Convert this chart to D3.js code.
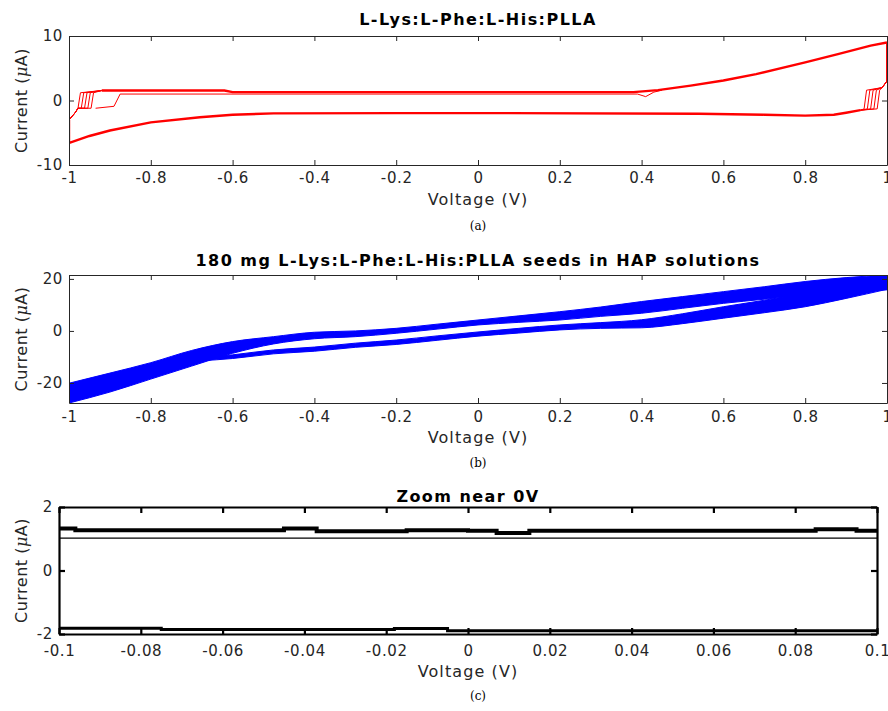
<!DOCTYPE html>
<html lang="en">
<head>
<meta charset="UTF-8">
<title>Cyclic voltammetry</title>
<script src="https://d3js.org/d3.v7.min.js"></script>
<style>
    body { margin: 0; background: #fff; font-family: "DejaVu Sans", sans-serif; }
    .tick text { font-size: 15px; fill: #262626; letter-spacing: 0.6px; font-family: "DejaVu Sans", sans-serif; }
    .title { font-size: 16px; font-weight: bold; fill: #000; text-anchor: middle; letter-spacing: 1.45px; }
    .axlabel { font-size: 16px; fill: #262626; text-anchor: middle; letter-spacing: 1.1px; }
    .ylabel { font-size: 16px; fill: #262626; text-anchor: middle; letter-spacing: 0.5px; }
    .caption { font-size: 12px; font-family: "DejaVu Serif", serif; text-anchor: middle; }
</style>
</head>
<body>
<svg width="888" height="711"></svg>
<script>
// ---- tick values
const voltTicks = [-1, -0.8, -0.6, -0.4, -0.2, 0, 0.2, 0.4, 0.6, 0.8, 1];
const zoomTicks = [-0.1, -0.08, -0.06, -0.04, -0.02, 0, 0.02, 0.04, 0.06, 0.08, 0.1];
const aCurTicks = [-10, 0, 10];
const bCurTicks = [-20, 0, 20];
const cCurTicks = [-2, 0, 2];

// ---- (a) L-Lys:L-Phe:L-His:PLLA, red loops (V, uA)
const aForwardV = [-0.92, -0.62, -0.6, 0.38, 0.44, 0.52, 0.6, 0.68, 0.8, 0.88, 0.96, 1.0];
const aForwardI = [1.55, 1.55, 1.3, 1.3, 1.6, 2.3, 3.1, 4.1, 5.9, 7.2, 8.5, 9.0];
const aReverseV = [0.935, 0.9, 0.87, 0.8, 0.7, 0.54, 0.05, -0.2, -0.5, -0.6, -0.68, -0.8, -0.9, -0.95, -1.0, -1.0];
const aReverseI = [-1.5, -1.9, -2.2, -2.35, -2.2, -2.05, -1.95, -1.95, -2.0, -2.2, -2.6, -3.4, -4.65, -5.5, -6.6, -3.0];
const aLeftSteps = [-0.978, -0.97, -0.962, -0.954, -0.946];
const aRightSteps = [0.982, 0.974, 0.966, 0.958, 0.95];
const aFirstV = [-0.935, -0.89, -0.875, 0.39, 0.41, 0.43, 0.45];
const aFirstI = [-1.2, -0.9, 1.0, 1.0, 0.6, 1.3, 1.6];

// ---- (b) 180 mg seeds in HAP, blue bands (V, uA)
const bUpperV  = [-1, -0.9, -0.8, -0.7, -0.6, -0.5, -0.4, -0.3, -0.2, -0.1, 0, 0.1, 0.2, 0.3, 0.4, 0.5, 0.6, 0.7, 0.8, 0.9, 1];
const bUpperHi = [-20.1, -16.2, -12.2, -7.5, -4.1, -2.2, -0.5, 0.0, 1.0, 2.6, 4.2, 5.8, 7.4, 9.2, 11.3, 13.2, 15.1, 17.0, 19.0, 20.5, 21.5];
const bUpperLo = [-27.7, -23.5, -18.5, -13.5, -8.6, -5.0, -3.0, -2.2, -0.9, 0.7, 2.3, 3.3, 4.2, 5.6, 6.8, 8.7, 10.6, 12.2, 13.8, 15.0, 15.8];
const bLowerV  = [-0.68, -0.6, -0.5, -0.4, -0.3, -0.2, -0.1, 0, 0.1, 0.2, 0.3, 0.4, 0.5, 0.6, 0.7, 0.8, 0.9, 1];
const bLowerHi = [-10.5, -9.2, -7.3, -6.2, -4.7, -3.5, -1.9, -0.4, 1.0, 2.3, 3.2, 4.3, 6.6, 9.3, 11.8, 14.5, 17.5, 20.5];
const bLowerLo = [-11.5, -10.6, -8.8, -7.8, -6.3, -5.2, -3.6, -2.0, -0.8, 0.4, 1.0, 1.2, 2.8, 4.9, 7.0, 9.3, 12.5, 16.0];

// ---- (c) zoom near 0 V, black traces (V, uA)
const cUpperV = [-0.1, -0.096, -0.045, -0.037, -0.015, 0.0, 0.007, 0.015, 0.085, 0.095, 0.1];
const cUpperI = [1.32, 1.27, 1.32, 1.24, 1.27, 1.25, 1.18, 1.25, 1.30, 1.25, 1.25];
const cRefV = [-0.1, 0.1];
const cRefI = [1.02, 1.02];
const cLowerV = [-0.1, -0.075, -0.018, -0.005, 0.1];
const cLowerI = [-1.82, -1.86, -1.83, -1.9, -1.92];

const svg = d3.select("svg");
const fmt = d => String(+d.toFixed(2));
const pts = (vs, is) => vs.map((v, k) => [v, is[k]]);

function panel(o) {
    const x = d3.scaleLinear().domain(o.xDomain).range([o.left, o.right]);
    const y = d3.scaleLinear().domain(o.yDomain).range([o.bottom, o.top]);
    const g = svg.append("g");
    const clipId = "clip" + o.id;
    g.append("clipPath").attr("id", clipId).append("rect")
        .attr("x", o.left).attr("y", o.top)
        .attr("width", o.right - o.left).attr("height", o.bottom - o.top);
    const data = g.append("g").attr("clip-path", `url(#${clipId})`);

    const tk = o.tick;
    const axes = [
        [d3.axisBottom(x).tickValues(o.xTicks).tickFormat(fmt), `translate(0,${o.bottom})`, o.xPad],
        [d3.axisTop(x).tickValues(o.xTicks).tickFormat(""), `translate(0,${o.top})`, 3],
        [d3.axisLeft(y).tickValues(o.yTicks).tickFormat(fmt), `translate(${o.left},0)`, o.yPad],
        [d3.axisRight(y).tickValues(o.yTicks).tickFormat(""), `translate(${o.right},0)`, 3]
    ];
    axes.forEach(([ax, tr, pad]) => {
        const a = g.append("g").attr("transform", tr)
            .call(ax.tickSizeInner(-tk).tickSizeOuter(0).tickPadding(pad));
        a.select(".domain").attr("stroke", o.frame).attr("stroke-width", o.frameW);
        a.selectAll(".tick line").attr("stroke", o.frame).attr("stroke-width", o.frameW);
    });
    g.selectAll(".tick text").attr("fill", "#262626");

    g.append("text").attr("class", "title")
        .attr("x", (o.left + o.right) / 2).attr("y", o.top + o.titleDy).text(o.title);
    g.append("text").attr("class", "axlabel")
        .attr("x", (o.left + o.right) / 2).attr("y", o.bottom + o.labelDy).text("Voltage (V)");
    const yl = g.append("text").attr("class", "ylabel")
        .attr("transform", `translate(27,${(o.top + o.bottom) / 2}) rotate(-90)`);
    yl.append("tspan").text("Current (");
    yl.append("tspan").attr("font-style", "italic").attr("font-family", "DejaVu Serif, serif").text("\u03bc");
    yl.append("tspan").text("A)");
    g.append("text").attr("class", "caption")
        .attr("x", 478).attr("y", o.bottom + o.capDy).text(o.caption);
    return { x, y, data };
}

// ---------- (a)
{
    const p = panel({ id: "a", left: 69, right: 887, top: 36, bottom: 165,
        xDomain: [-1, 1], yDomain: [-10, 10], xTicks: voltTicks, yTicks: aCurTicks,
        tick: 5, frame: "#262626", frameW: 1, xPad: 7, yPad: 6,
        titleDy: -11, labelDy: 40, capDy: 65,
        title: "L-Lys:L-Phe:L-His:PLLA", caption: "(a)" });
    const line = d3.line().x(d => p.x(d[0])).y(d => p.y(d[1]));
    const red = "#ff0000";
    p.data.append("path").attr("d", line(pts(aForwardV, aForwardI)))
        .attr("fill", "none").attr("stroke", red).attr("stroke-width", 2.4);
    p.data.append("path").attr("d", line(pts(aReverseV, aReverseI)))
        .attr("fill", "none").attr("stroke", red).attr("stroke-width", 2.4);
    p.data.append("path").attr("d", line(pts(aFirstV, aFirstI)))
        .attr("fill", "none").attr("stroke", red).attr("stroke-width", 1);
    aLeftSteps.forEach(s => {
        const c = [[-1, -3.0], [-0.985, -1.9], [-0.978, -1.2], [s, -1.2], [s + 0.006, 1.2], [-0.92, 1.55]];
        p.data.append("path").attr("d", line(c))
            .attr("fill", "none").attr("stroke", red).attr("stroke-width", 1);
    });
    aRightSteps.forEach(s => {
        const c = [[1.0, 9.0], [1.0, 3.0], [0.988, 2.0], [s, 1.6], [s - 0.006, -1.3], [0.935, -1.5]];
        p.data.append("path").attr("d", line(c))
            .attr("fill", "none").attr("stroke", red).attr("stroke-width", 1);
    });
}

// ---------- (b)
{
    const p = panel({ id: "b", left: 69, right: 887, top: 275, bottom: 403,
        xDomain: [-1, 1], yDomain: [-27.7, 21.5], xTicks: voltTicks, yTicks: bCurTicks,
        tick: 5, frame: "#262626", frameW: 1, xPad: 8, yPad: 6,
        titleDy: -9, labelDy: 40, capDy: 64,
        title: "180 mg L-Lys:L-Phe:L-His:PLLA seeds in HAP solutions", caption: "(b)" });
    const area = d3.area().curve(d3.curveMonotoneX)
        .x(d => p.x(d.v)).y0(d => p.y(d.lo)).y1(d => p.y(d.hi));
    const blue = "#0000ff";
    const upper = bUpperV.map((v, k) => ({ v, hi: bUpperHi[k], lo: bUpperLo[k] }));
    const lower = bLowerV.map((v, k) => ({ v, hi: bLowerHi[k], lo: bLowerLo[k] }));
    [upper, lower].forEach(band => {
        p.data.append("path").attr("d", area(band))
            .attr("fill", blue).attr("stroke", blue).attr("stroke-width", 1);
    });
}

// ---------- (c)
{
    const p = panel({ id: "c", left: 59, right: 877, top: 507, bottom: 634,
        xDomain: [-0.1, 0.1], yDomain: [-2, 2], xTicks: zoomTicks, yTicks: cCurTicks,
        tick: 6, frame: "#000", frameW: 2.2, xPad: 11, yPad: 6,
        titleDy: -5, labelDy: 43, capDy: 66,
        title: "Zoom near 0V", caption: "(c)" });
    const step = d3.line().curve(d3.curveStepAfter).x(d => p.x(d[0])).y(d => p.y(d[1]));
    p.data.append("path").attr("d", step(pts(cUpperV, cUpperI)))
        .attr("fill", "none").attr("stroke", "#000").attr("stroke-width", 4);
    p.data.append("path").attr("d", step(pts(cRefV, cRefI)))
        .attr("fill", "none").attr("stroke", "#000").attr("stroke-width", 1.2);
    p.data.append("path").attr("d", step(pts(cLowerV, cLowerI)))
        .attr("fill", "none").attr("stroke", "#000").attr("stroke-width", 3);
}
</script>
</body>
</html>
